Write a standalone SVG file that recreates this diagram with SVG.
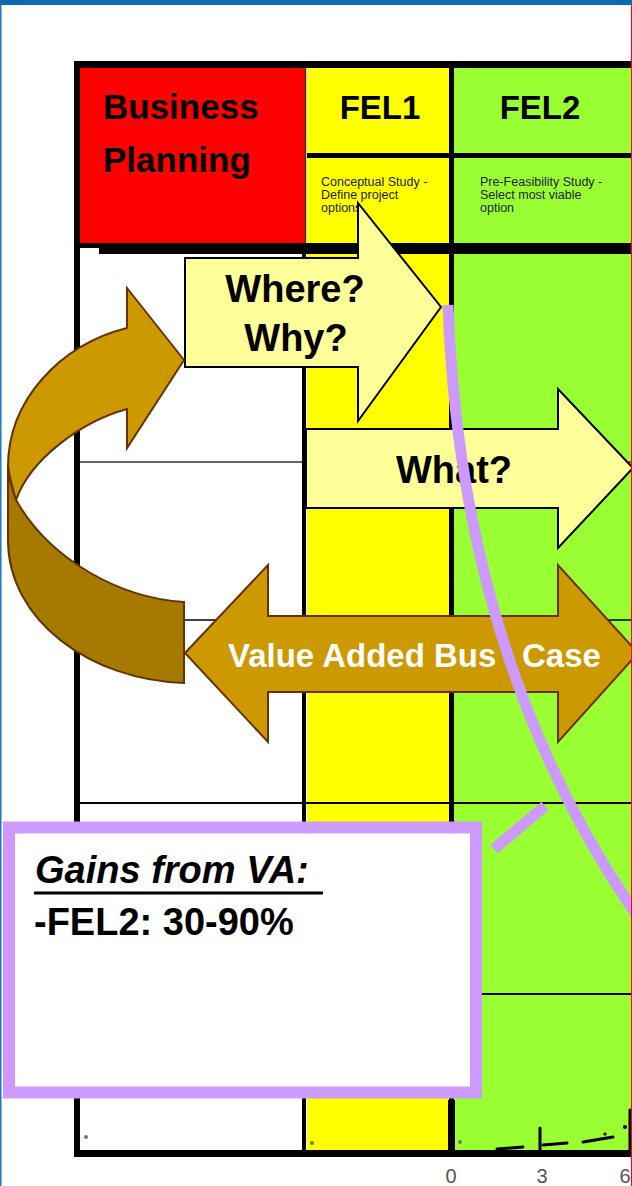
<svg xmlns="http://www.w3.org/2000/svg" width="632" height="1186" viewBox="0 0 632 1186">
<style>
.t{font-family:"Liberation Sans",Arial,sans-serif;font-weight:bold;fill:#000}
.sub{font-family:"Liberation Sans",Arial,sans-serif;font-size:12.5px;fill:#222}
.ya{fill:#ffff99;stroke:#000;stroke-width:2;stroke-linejoin:miter}
.ba{fill:#cc9900;stroke:#663300;stroke-width:2;stroke-linejoin:miter}
.bd{fill:#a67a00;stroke:#663300;stroke-width:2}
.pp{stroke:#cc99ff;fill:none;stroke-width:11}
.bk{fill:#000}
.dot{fill:#777}
.sq{stroke:#000;fill:none;stroke-width:3;stroke-linecap:round}
.ax{font-family:"Liberation Sans",Arial,sans-serif;font-size:20px;fill:#555;text-anchor:middle}
</style>
<rect width="632" height="1186" fill="#fff"/>
<g id="table">
  <rect x="307" y="68" width="142" height="1082" fill="#ffff00"/>
  <rect x="454" y="68" width="178" height="1082" fill="#99ff33"/>
  <line x1="80" y1="462" x2="632" y2="462" stroke="#666" stroke-width="2"/>
  <line x1="80" y1="620" x2="632" y2="620" stroke="#000" stroke-width="1.5"/>
  <line x1="80" y1="803" x2="632" y2="803" stroke="#000" stroke-width="2"/>
  <line x1="80" y1="994" x2="632" y2="994" stroke="#000" stroke-width="2"/>
  <rect class="bk" x="302" y="243" width="4" height="907"/>
  <rect class="bk" x="449" y="68" width="5" height="1082"/>
  <rect class="bk" x="448" y="1100" width="7" height="50"/>
  <rect class="bk" x="307" y="153" width="325" height="5"/>
  <rect class="bk" x="80" y="243" width="552" height="5"/>
  <rect class="bk" x="99" y="243" width="533" height="11"/>
  <rect class="bk" x="74" y="61" width="558" height="7"/>
  <rect class="bk" x="74" y="61" width="6" height="1096"/>
  <rect class="bk" x="74" y="1150" width="558" height="7"/>
  <circle class="dot" cx="86" cy="1137" r="2"/>
  <circle class="dot" cx="312" cy="1143" r="2"/>
  <circle class="dot" cx="460" cy="1142" r="2"/>
  <path class="sq" d="M497,1149 L523,1147 M543,1145 L567,1143 M583,1142 L613,1137"/>
  <path class="sq" d="M540,1128 V1150 M630,1110 V1150"/>
  <circle class="bk" cx="605" cy="1134" r="1.6"/>
  <circle class="bk" cx="625" cy="1127" r="2"/>
  <text class="ax" x="451" y="1183">0</text>
  <text class="ax" x="542" y="1183">3</text>
  <text class="ax" x="625" y="1183">6</text>
</g>
<g id="header-business">
  <rect x="80" y="68" width="225" height="175" fill="#ff0000"/>
  <line x1="305.5" y1="68" x2="305.5" y2="243" stroke="#333" stroke-width="1.5"/>
  <text class="t" x="103" y="119" font-size="35">Business</text>
  <text class="t" x="103" y="172" font-size="35">Planning</text>
</g>
<g id="header-fel1">
  <text class="t" x="380" y="119" font-size="33" text-anchor="middle">FEL1</text>
  <text class="sub" x="321" y="186">Conceptual Study -</text>
  <text class="sub" x="321" y="199">Define project</text>
  <text class="sub" x="321" y="212">options</text>
</g>
<g id="header-fel2">
  <text class="t" x="540" y="119" font-size="33" text-anchor="middle">FEL2</text>
  <text class="sub" x="480" y="186">Pre-Feasibility Study -</text>
  <text class="sub" x="480" y="199">Select most viable</text>
  <text class="sub" x="480" y="212">option</text>
</g>
<g id="arrow-where">
  <path class="ya" d="M185,258 H358 V203 L441,307 L358,421 V367 H185 Z"/>
  <text class="t" x="295" y="302" font-size="38" text-anchor="middle">Where?</text>
  <text class="t" x="296" y="351" font-size="38" text-anchor="middle">Why?</text>
</g>
<g id="arrow-what">
  <path class="ya" d="M306,429 H558 V389 L633,468 L558,548 V508 H306 Z"/>
  <text class="t" x="454" y="483" font-size="38" text-anchor="middle">What?</text>
</g>
<g id="arrow-value">
  <path class="ba" d="M185,653 L268,565 V616 H558 V565 L638,653 L558,742 V692 H268 V742 Z"/>
  <text class="t" x="228" y="667" font-size="33" style="fill:#fff">Value Added Bus <tspan x="522">Case</tspan></text>
</g>
<g id="arrow-curved">
  <path class="ba" d="M184,360 L127,288 L127,328 C60,345 8,400 8,467 C10,480 13,490 16,500 C30,460 80,422 127,409 L127,448 Z"/>
  <path class="bd" d="M8,465 L8,540 C8,620 90,680 184,683 L184,602 C120,598 50,560 16,500 C12,490 9,478 8,465 Z"/>
</g>
<g id="connectors">
  <path class="pp" d="M448,305 C455,500 500,720 640,920"/>
  <line class="pp" x1="545" y1="806" x2="494" y2="849"/>
</g>
<g id="gains-box">
  <rect x="9" y="827.5" width="467" height="265" fill="#fff" stroke="#cc99ff" stroke-width="12"/>
  <text class="t" x="35" y="883" font-size="38" font-style="italic">Gains from VA:</text>
  <line x1="34" y1="893" x2="323" y2="893" stroke="#000" stroke-width="3"/>
  <text class="t" x="34" y="935" font-size="38">-FEL2: 30-90%</text>
</g>
<g id="frame">
  <line x1="631.5" y1="5" x2="631.5" y2="1186" stroke="#ff0000" stroke-width="1"/>
  <rect x="0" y="0" width="1.5" height="1186" fill="#1f7ac4"/>
  <rect x="0" y="0" width="632" height="5" fill="#0d6aad"/>
</g>
</svg>
